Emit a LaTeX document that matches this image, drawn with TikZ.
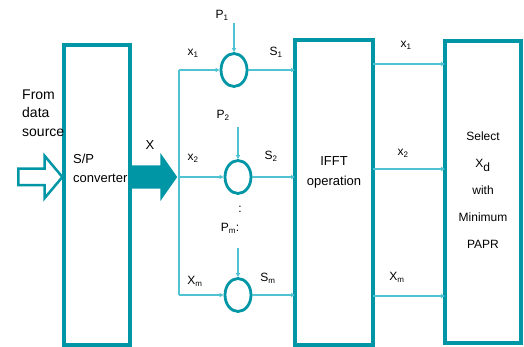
\documentclass[tikz,border=0pt]{standalone}
\usepackage{fontspec}
\setmainfont{Liberation Sans}
\usepackage{tikz}
\usetikzlibrary{shapes.geometric, shapes.arrows, arrows.meta, positioning, calc}
\definecolor{boxteal}{RGB}{0,150,165}
\definecolor{lineteal}{RGB}{80,195,210}

\begin{document}
\begin{tikzpicture}[
    x=1pt, y=-1pt,
    block/.style={rectangle, draw=boxteal, line width=3.5pt, outer sep=0pt, anchor=north west},
    mixer/.style={ellipse, draw=boxteal, line width=2.8pt, minimum width=26pt, minimum height=33pt, inner sep=0pt, fill=white},
    wire/.style={draw=lineteal, line width=1.1pt},
    arrow/.style={wire, -{Triangle[length=4pt, width=4pt]}},
    lbl/.style={font=\fontsize{12}{14}\selectfont, inner sep=0pt},
]
\useasboundingbox (0,0) rectangle (524,347);

% Nodes
\node [block, minimum width=66pt, minimum height=300pt] (sp) at (64,45) {};
\node [block, minimum width=78pt, minimum height=305pt] (ifft) at (295,40) {};
\node [block, minimum width=76pt, minimum height=302pt] (sel) at (445,41) {};

\node [mixer] (m1) at (234,70) {};
\node [mixer] (m2) at (238,177) {};
\node [mixer] (m3) at (238,295) {};

\coordinate (split) at (179,177);
\coordinate (b1) at (179,70);
\coordinate (b3) at (179,295);
\coordinate (pin1) at (234,23);
\coordinate (pin2) at (238,127);
\coordinate (pin3) at (238,248);
\coordinate (r1) at (0,64);
\coordinate (r2) at (0,169);
\coordinate (r3) at (0,296);

\node [single arrow, draw=boxteal, line width=2.5pt, minimum height=44pt, inner xsep=0pt, inner ysep=7pt,
       single arrow head extend=13pt, single arrow tip angle=100, anchor=tip] (src) at (sp.west |- split) {};
\node [single arrow, fill=boxteal, minimum height=47pt, inner xsep=0pt, inner ysep=11.5pt,
       single arrow head extend=12.5pt, single arrow tip angle=110, anchor=tail] (bus) at (sp.east |- split) {};

% Texts
\node [lbl, font=\fontsize{14}{18.5}\selectfont, align=left, anchor=west] (from) at (22,113) {From\\data\\source};
\node [lbl, font=\fontsize{13}{19}\selectfont, align=left, anchor=west] (splbl) at (73,168) {S/P\\converter};
\node [lbl, font=\fontsize{13}{20}\selectfont, align=center] (iffttxt) at (334,172) {IFFT\\operation};
\node [lbl, font=\fontsize{12}{27}\selectfont, align=center] (seltxt) at (483,190) {Select\\X\textsubscript{\large d}\\with\\Minimum\\PAPR};
\node [lbl, font=\fontsize{13}{14}\selectfont] (xlbl) at (150,145) {X};

\node [lbl] (p1) at (222,15) {P\textsubscript{1}};
\node [lbl] (p2) at (223,115) {P\textsubscript{2}};
\node [lbl] (pm) at (230,228) {P\textsubscript{m}:};
\node [lbl] (dots) at (240,209) {:};

\node [lbl] (x1) at (193,53) {x\textsubscript{1}};
\node [lbl] (x2) at (193,158) {x\textsubscript{2}};
\node [lbl] (xm) at (195,281) {X\textsubscript{m}};
\node [lbl] (s1) at (276,52) {S\textsubscript{1}};
\node [lbl] (s2) at (271,156) {S\textsubscript{2}};
\node [lbl] (sm) at (268,278) {S\textsubscript{m}};

\node [lbl] (o1) at (406,45) {x\textsubscript{1}};
\node [lbl] (o2) at (403,153) {x\textsubscript{2}};
\node [lbl] (om) at (397,277) {X\textsubscript{m}};

% Arcs/Paths
\draw [wire] (b1) -- (b3);
\draw [arrow] (b1) -- (m1.west);
\draw [arrow] (split) -- (m2.west);
\draw [arrow] (b3) -- (m3.west);

\draw [arrow] (pin1) -- (m1.north);
\draw [arrow] (pin2) -- (m2.north);
\draw [arrow] (pin3) -- (m3.north);

\draw [arrow] (m1.east) -- (m1.east -| ifft.west);
\draw [arrow] (m2.east) -- (m2.east -| ifft.west);
\draw [arrow] (m3.east) -- (m3.east -| ifft.west);

\draw [arrow] (ifft.east |- r1) -- (sel.west |- r1);
\draw [arrow] (ifft.east |- r2) -- (sel.west |- r2);
\draw [arrow] (ifft.east |- r3) -- (sel.west |- r3);

\end{tikzpicture}
\end{document}
